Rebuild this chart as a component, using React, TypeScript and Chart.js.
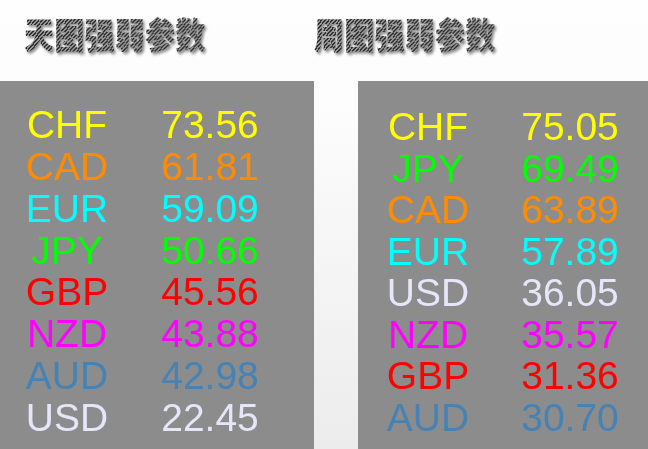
import React, { useEffect, useRef } from 'react';
import { Chart, registerables } from 'chart.js';

Chart.register(...registerables);

// 天图 (daily) strength ranking
const dayCurrencies = ['CHF', 'CAD', 'EUR', 'JPY', 'GBP', 'NZD', 'AUD', 'USD'];
const dayValues = [73.56, 61.81, 59.09, 50.66, 45.56, 43.88, 42.98, 22.45];

// 周图 (weekly) strength ranking
const weekCurrencies = ['CHF', 'JPY', 'CAD', 'EUR', 'USD', 'NZD', 'GBP', 'AUD'];
const weekValues = [75.05, 69.49, 63.89, 57.89, 36.05, 35.57, 31.36, 30.7];

// the two columns of each table
const columns = ['name', 'value'];

const currencyColors: Record<string, string> = {
  CHF: '#ffff00',
  CAD: '#ff8c00',
  EUR: '#00ffff',
  JPY: '#00ff00',
  GBP: '#ff0000',
  NZD: '#ff00ff',
  AUD: '#4682b4',
  USD: '#e6e6fa',
};

const FONT_SIZE = 39;
const PANEL_BG = '#8c8c8c';

// draws the cell text at each (column, row) point position
const cellText = {
  id: 'cellText',
  afterDatasetsDraw(chart: any) {
    const { ctx } = chart;
    ctx.save();
    ctx.font = `${FONT_SIZE}px Arial, "Liberation Sans", sans-serif`;
    ctx.textAlign = 'center';
    ctx.textBaseline = 'alphabetic';
    chart.data.datasets.forEach((ds: any, d: number) => {
      chart.getDatasetMeta(d).data.forEach((pt: any, i: number) => {
        const raw = ds.data[i];
        ctx.fillStyle = currencyColors[raw.y];
        const text = d === 0 ? raw.y : raw.v.toFixed(2);
        ctx.fillText(text, pt.x, pt.y + FONT_SIZE * 0.358);
      });
    });
    ctx.restore();
  },
};

interface PanelProps {
  currencies: string[];
  values: number[];
  width: number;
  height: number;
  padding: { left: number; right: number; top: number; bottom: number };
}

function Panel({ currencies, values, width, height, padding }: PanelProps) {
  const canvasRef = useRef<HTMLCanvasElement>(null);

  useEffect(() => {
    if (!canvasRef.current) return;
    const chart = new Chart(canvasRef.current, {
      type: 'scatter',
      data: {
        datasets: [
          { label: 'name', data: currencies.map(c => ({ x: 'name', y: c })) as any, pointRadius: 0 },
          { label: 'value', data: currencies.map((c, i) => ({ x: 'value', y: c, v: values[i] })) as any, pointRadius: 0 },
        ],
      },
      options: {
        responsive: false,
        animation: false,
        events: [],
        layout: { padding },
        plugins: { legend: { display: false }, tooltip: { enabled: false } },
        scales: {
          x: { type: 'category', labels: columns, display: false, offset: false },
          y: { type: 'category', labels: currencies, display: false, offset: false },
        },
      },
      plugins: [cellText],
    });
    return () => chart.destroy();
  }, [currencies, values, padding]);

  return <canvas ref={canvasRef} width={width} height={height} style={{ display: 'block' }} />;
}

function Title({ text, left }: { text: string; left: number }) {
  return (
    <div
      style={{
        position: 'absolute',
        left,
        top: 15,
        fontFamily: '"Noto Sans CJK SC", sans-serif',
        fontWeight: 900,
        fontSize: 36,
        lineHeight: '37px',
        whiteSpace: 'nowrap',
        transform: 'scaleX(0.84)',
        transformOrigin: 'left top',
        filter: 'drop-shadow(2px 2px 1.5px rgba(0,0,0,0.45))',
      }}
    >
      <span
        style={{
          background: 'repeating-linear-gradient(135deg, #2e2e2e 0px, #2e2e2e 1.5px, #9a9a9a 1.5px, #9a9a9a 3px)',
          WebkitBackgroundClip: 'text',
          backgroundClip: 'text',
          color: 'transparent',
        }}
      >
        {text}
      </span>
    </div>
  );
}

const dayPadding = { left: 67, right: 104, top: 43, bottom: 32 };
const weekPadding = { left: 70, right: 78, top: 45, bottom: 32 };

export default function App() {
  return (
    <div
      style={{
        position: 'absolute',
        left: 0,
        top: 0,
        width: 648,
        height: 449,
        overflow: 'hidden',
        background: 'linear-gradient(to bottom, #fefefe 0%, #fcfcfc 25%, #ececec 100%)',
      }}
    >
      <Title text="天图强弱参数" left={24} />
      <Title text="周图强弱参数" left={314} />
      <div style={{ position: 'absolute', left: 0, top: 81, width: 314, height: 368, background: PANEL_BG }}>
        <Panel currencies={dayCurrencies} values={dayValues} width={314} height={368} padding={dayPadding} />
      </div>
      <div style={{ position: 'absolute', left: 358, top: 81, width: 290, height: 368, background: PANEL_BG }}>
        <Panel currencies={weekCurrencies} values={weekValues} width={290} height={368} padding={weekPadding} />
      </div>
    </div>
  );
}
